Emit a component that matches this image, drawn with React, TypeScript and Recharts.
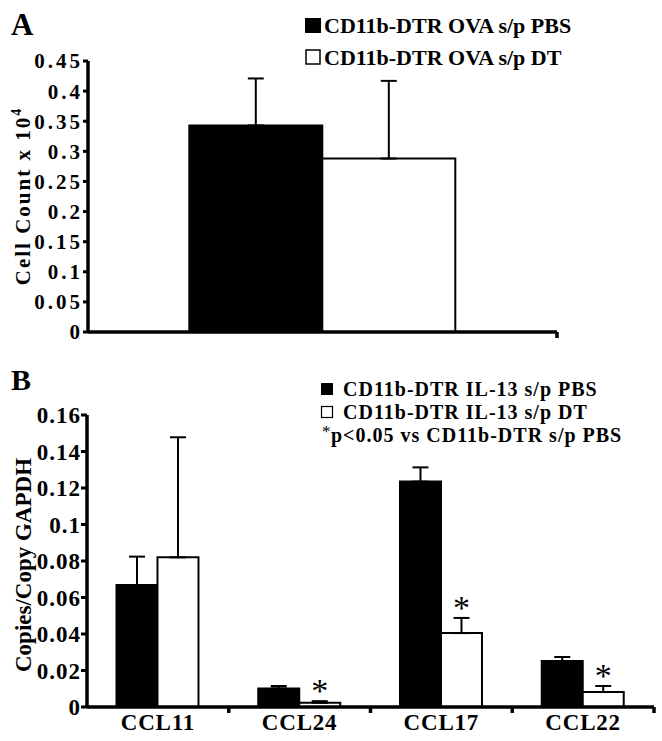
import React from "react";
import { BarChart, Bar, XAxis, YAxis, ErrorBar, LabelList } from "recharts";

// ---------- Panel A data ----------
const groupsA = ["OVA"];
const aPbs = [0.343];
const aPbsErr = [0.078];
const aDt = [0.288];
const aDtErr = [0.129];
const aTicks = [0, 0.05, 0.1, 0.15, 0.2, 0.25, 0.3, 0.35, 0.4, 0.45];

// ---------- Panel B data ----------
const groupsB = ["CCL11", "CCL24", "CCL17", "CCL22"];
const bPbs = [0.0668, 0.0102, 0.1235, 0.0252];
const bPbsErr = [0.0156, 0.0013, 0.0078, 0.0022];
const bDt = [0.082, 0.0023, 0.0405, 0.0082];
const bDtErr = [0.0658, 0.0009, 0.0083, 0.0033];
const bSig = ["", "*", "*", "*"];
const bTicks = [0, 0.02, 0.04, 0.06, 0.08, 0.1, 0.12, 0.14, 0.16];

const legendA = ["CD11b-DTR OVA s/p PBS", "CD11b-DTR OVA s/p DT"];
const legendB = ["CD11b-DTR IL-13 s/p PBS", "CD11b-DTR IL-13 s/p DT"];
const noteB = "p<0.05 vs CD11b-DTR s/p PBS";

const dataA = groupsA.map((g, i) => ({
  name: g,
  pbs: aPbs[i],
  pbsErr: [0, aPbsErr[i]],
  dt: aDt[i],
  dtErr: [0, aDtErr[i]],
}));

const dataB = groupsB.map((g, i) => ({
  name: g,
  pbs: bPbs[i],
  pbsErr: [0, bPbsErr[i]],
  dt: bDt[i],
  dtErr: [0, bDtErr[i]],
  sig: bSig[i],
}));

const SERIF = '"Liberation Serif", "Times New Roman", serif';

// layout constants (styles)
const A_LEFT = 88;
const A_RIGHT = 557;
const B_LEFT = 87;
const B_RIGHT = 654;
const halfBandA = (A_RIGHT - A_LEFT) / groupsA.length / 2;
const halfBandB = (B_RIGHT - B_LEFT) / groupsB.length / 2;

const TickA = (props: any) => {
  const { x, y } = props;
  return (
    <line x1={x + halfBandA} x2={x + halfBandA} y1={y} y2={y + 6} stroke="#000" strokeWidth={3.5} />
  );
};

const TickB = (props: any) => {
  const { x, y, payload } = props;
  return (
    <g>
      <text
        x={x}
        y={y + 23}
        textAnchor="middle"
        fontFamily={SERIF}
        fontWeight="bold"
        fontSize={23}
        letterSpacing={0.8}
        fill="#000"
      >
        {payload.value}
      </text>
      <line x1={x + halfBandB} x2={x + halfBandB} y1={y} y2={y + 6} stroke="#000" strokeWidth={3.5} />
    </g>
  );
};

const Star = (props: any) => {
  const vb = props.viewBox || {};
  const x = props.x ?? vb.x;
  const y = props.y ?? vb.y;
  const width = props.width ?? vb.width;
  const height = props.height ?? vb.height;
  const index = props.index;
  const value = props.value;
  if (!value || index == null) return null;
  const ppu = height / bDt[index];
  const errTop = y - bDtErr[index] * ppu;
  return (
    <text
      x={x + width / 2}
      y={errTop + 1}
      textAnchor="middle"
      fontFamily={SERIF}
      fontSize={34}
      fill="#000"
    >
      {value}
    </text>
  );
};

export default function App() {
  return (
    <div style={{ position: "absolute", left: 0, top: 0, width: 662, height: 741, background: "#fff" }}>
      <div style={{ position: "absolute", left: 0, top: 0 }}>
        <BarChart
          width={662}
          height={370}
          data={dataA}
          margin={{ top: 61, right: 662 - A_RIGHT, bottom: 28, left: 0 }}
          barCategoryGap="21.6%"
          barGap={0}
        >
          <XAxis
            dataKey="name"
            height={10}
            axisLine={{ stroke: "#000", strokeWidth: 3.5 }}
            tickLine={false}
            tickSize={0}
            tickMargin={0}
            tick={<TickA />}
          />
          <YAxis
            type="number"
            domain={[0, 0.45]}
            ticks={aTicks}
            interval={0}
            width={A_LEFT}
            axisLine={{ stroke: "#000", strokeWidth: 3.5 }}
            tickLine={{ stroke: "#000", strokeWidth: 3 }}
            tickSize={5}
            tickMargin={0}
            tick={{ fontFamily: SERIF, fontWeight: "bold", fontSize: 21, letterSpacing: 3, fill: "#000" }}
          />
          <Bar dataKey="pbs" fill="#000" stroke="#000" strokeWidth={2} isAnimationActive={false}>
            <ErrorBar dataKey="pbsErr" direction="y" width={8} stroke="#000" strokeWidth={2} />
          </Bar>
          <Bar dataKey="dt" fill="#fff" stroke="#000" strokeWidth={2} isAnimationActive={false}>
            <ErrorBar dataKey="dtErr" direction="y" width={8} stroke="#000" strokeWidth={2} />
          </Bar>
        </BarChart>
      </div>
      <div style={{ position: "absolute", left: 0, top: 370 }}>
        <BarChart
          width={662}
          height={371}
          data={dataB}
          margin={{ top: 45, right: 662 - B_RIGHT, bottom: 4, left: 0 }}
          barCategoryGap="20.8%"
          barGap={0}
        >
          <XAxis
            dataKey="name"
            height={30}
            axisLine={{ stroke: "#000", strokeWidth: 3.5 }}
            tickLine={false}
            tickSize={0}
            tickMargin={0}
            interval={0}
            tick={<TickB />}
          />
          <YAxis
            type="number"
            domain={[0, 0.16]}
            ticks={bTicks}
            interval={0}
            width={B_LEFT}
            axisLine={{ stroke: "#000", strokeWidth: 3.5 }}
            tickLine={{ stroke: "#000", strokeWidth: 3 }}
            tickSize={6}
            tickMargin={0}
            tick={{ fontFamily: SERIF, fontWeight: "bold", fontSize: 23, letterSpacing: 1, fill: "#000" }}
          />
          <Bar dataKey="pbs" fill="#000" stroke="#000" strokeWidth={2} isAnimationActive={false}>
            <ErrorBar dataKey="pbsErr" direction="y" width={8} stroke="#000" strokeWidth={2} />
          </Bar>
          <Bar dataKey="dt" fill="#fff" stroke="#000" strokeWidth={2} isAnimationActive={false}>
            <ErrorBar dataKey="dtErr" direction="y" width={8} stroke="#000" strokeWidth={2} />
            <LabelList dataKey="sig" content={<Star />} />
          </Bar>
        </BarChart>
      </div>
      <svg
        width={662}
        height={741}
        style={{ position: "absolute", left: 0, top: 0, pointerEvents: "none" }}
      >
        <g fontFamily={SERIF} fill="#000">
          <text x={11} y={35} fontSize={31} fontWeight="bold">A</text>
          <text x={11} y={390} fontSize={30} fontWeight="bold">B</text>

          {/* Panel A legend */}
          <rect x={305} y={18} width={16} height={15} fill="#000" />
          <rect x={306} y={50} width={14} height={14} fill="#fff" stroke="#000" strokeWidth={1.5} />
          <text x={324} y={33} fontSize={22} fontWeight="bold">{legendA[0]}</text>
          <text x={324} y={65} fontSize={22} fontWeight="bold">{legendA[1]}</text>

          {/* Panel B legend */}
          <rect x={321} y={383} width={12} height={12} fill="#000" />
          <rect x={321.5} y={406.5} width={11} height={11} fill="#fff" stroke="#000" strokeWidth={1.2} />
          <text x={343} y={396} fontSize={20} fontWeight="bold" letterSpacing={1}>{legendB[0]}</text>
          <text x={343} y={419} fontSize={20} fontWeight="bold" letterSpacing={1}>{legendB[1]}</text>
          <text x={322} y={437} fontSize={17}>*</text>
          <text x={331} y={442} fontSize={20} fontWeight="bold" letterSpacing={1}>{noteB}</text>

          {/* Axis titles */}
          <text
            transform="translate(30,196) rotate(-90)"
            textAnchor="middle"
            fontSize={21}
            fontWeight="bold"
            letterSpacing={2}
          >
            Cell Count x 10<tspan dy={-9} fontSize={14}>4</tspan>
          </text>
          <text
            transform="translate(31,565) rotate(-90)"
            textAnchor="middle"
            fontSize={23}
            fontWeight="bold"
          >
            Copies/Copy GAPDH
          </text>
        </g>
      </svg>
    </div>
  );
}
